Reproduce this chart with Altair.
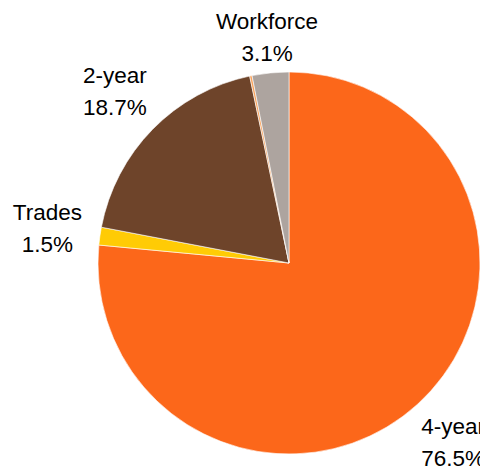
import math
import altair as alt
import pandas as pd

categories = ["4-year", "Trades", "2-year", "Other", "Workforce"]
shares = [76.5, 1.5, 18.7, 0.2, 3.1]
pct_labels = ["76.5%", "1.5%", "18.7%", "", "3.1%"]
colors = ["#FC671A", "#FFCB05", "#6E442A", "#F9A25B", "#ADA49F"]

df = pd.DataFrame({
    "category": categories,
    "share": shares,
    "pct": pct_labels,
    "order": list(range(len(categories))),
})

cx, cy, R = 289, 263, 191

arcs = alt.Chart(df).mark_arc(outerRadius=R, stroke="white", strokeWidth=0.6).encode(
    theta=alt.Theta("share:Q", stack=True),
    order=alt.Order("order:Q"),
    color=alt.Color("category:N", scale=alt.Scale(domain=categories, range=colors), legend=None),
    x=alt.value(cx),
    y=alt.value(cy),
)

lab_base = alt.Chart(df).transform_window(
    cum="sum(share)", sort=[alt.SortField("order")], frame=[None, 0]
).transform_calculate(
    mid="datum.cum - datum.share / 2"
).encode(
    theta=alt.Theta("mid:Q", scale=alt.Scale(domain=[0, 100], range=[0, 2 * math.pi])),
    x=alt.value(cx),
    y=alt.value(cy),
)

txt_style = dict(font="Liberation Sans", fontSize=22.5, align="center",
                 baseline="middle", color="#000000")


def labels(radius, cond):
    sub = lab_base.transform_filter(cond)
    name = sub.mark_text(radius=radius, dy=-16, **txt_style).encode(text="category:N")
    pct = sub.mark_text(radius=radius, dy=16, **txt_style).encode(text="pct:N")
    return [name, pct]


layers = [arcs]
layers += labels(244, (alt.datum.category != "Workforce") & (alt.datum.pct != ""))
layers += labels(226, alt.datum.category == "Workforce")

chart = alt.layer(*layers).properties(
    width=480, height=473,
    autosize=alt.AutoSizeParams(type="none"),
    padding=0,
).configure_view(stroke=None)

chart.save("out.html", embed_options={"renderer": "svg", "actions": False})
